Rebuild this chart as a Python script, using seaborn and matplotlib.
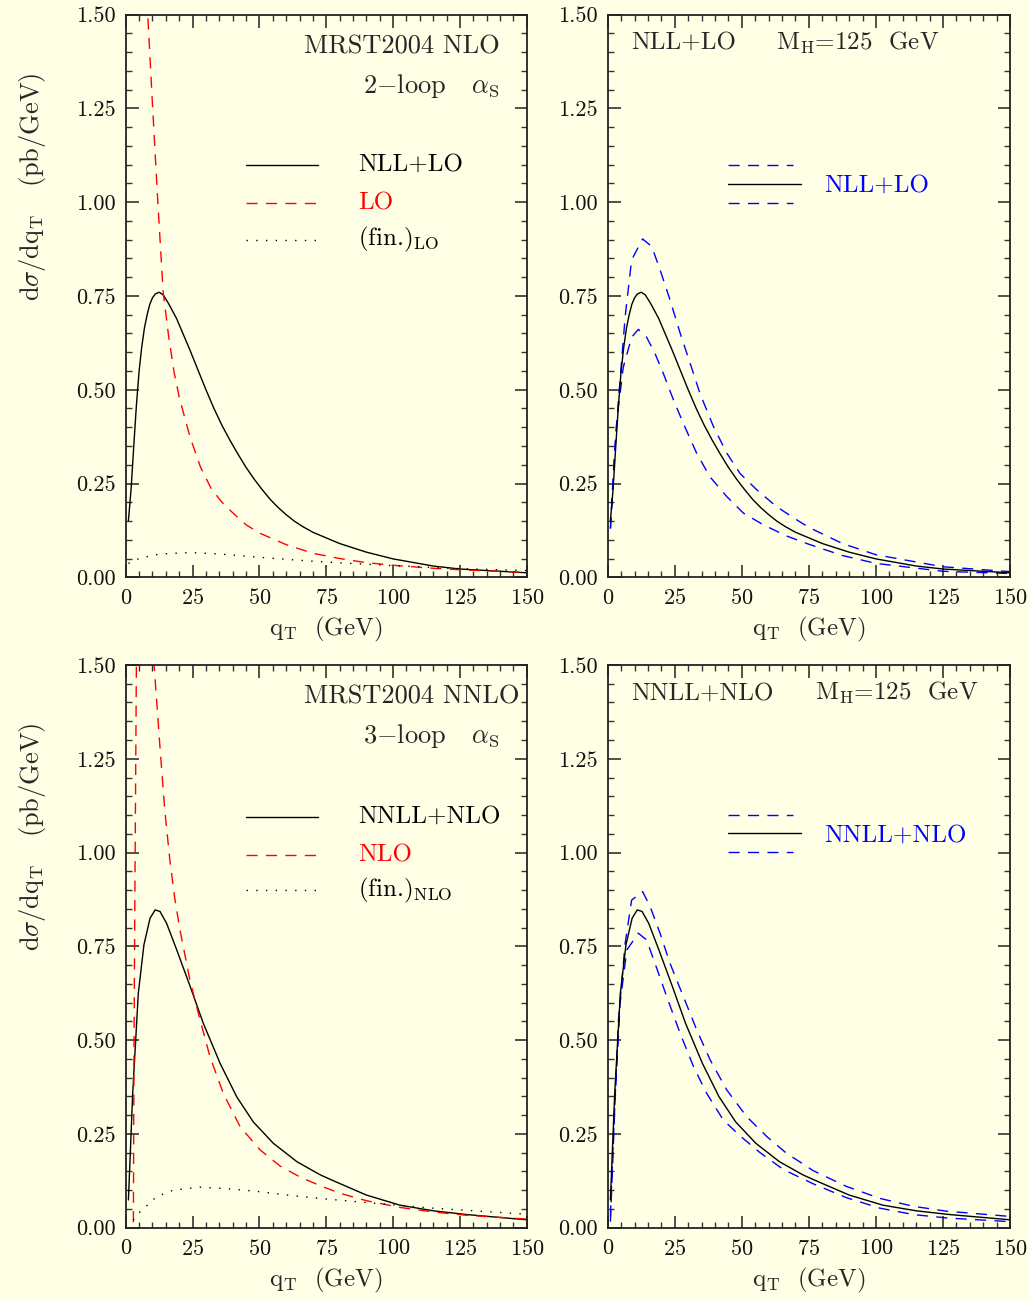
import matplotlib
matplotlib.use("Agg")
import matplotlib.pyplot as plt
import seaborn as sns
from matplotlib.ticker import MultipleLocator, FormatStrFormatter

# ---- data (q_T in GeV, d sigma/d q_T in pb/GeV) ----
# NLL+LO resummed curve (top panels)
q_nll = [1, 2, 3, 4, 5, 6, 7, 8, 9, 10, 11, 12.5, 14, 16, 19, 24, 30, 33, 36, 39,
         42, 45, 48, 51, 54, 57, 60, 63, 66, 70, 75, 80, 90, 100, 115, 125, 150]
nll_lo = [0.151, 0.235, 0.35, 0.46, 0.55, 0.615, 0.665, 0.70, 0.728, 0.745, 0.755,
          0.76, 0.753, 0.73, 0.69, 0.606, 0.50, 0.45, 0.405, 0.365, 0.328, 0.293,
          0.262, 0.234, 0.208, 0.186, 0.167, 0.15, 0.136, 0.12, 0.105, 0.09,
          0.067, 0.049, 0.03, 0.022, 0.012]

# LO fixed order (top left)
q_lo = [6, 8, 10, 12, 14, 16, 18, 20, 24, 28, 32, 36, 40, 45, 50, 60, 70, 80, 90,
        100, 115, 125, 150]
lo = [2.1, 1.53, 1.26, 1.0, 0.76, 0.645, 0.55, 0.48, 0.375, 0.293, 0.236, 0.2,
      0.172, 0.14, 0.118, 0.087, 0.064, 0.05, 0.039, 0.032, 0.024, 0.02, 0.013]

# (fin.)_LO (top left)
q_fin_lo = [1, 5.3, 12.8, 24, 35.3, 50.3, 71.4, 100, 125, 150]
fin_lo = [0.037, 0.051, 0.062, 0.066, 0.062, 0.053, 0.042, 0.031, 0.023, 0.018]

# NLL+LO scale band (top right)
q_nll_up = [1, 2.5, 4.6, 6.5, 8.9, 13, 16.4, 19.5, 23.2, 27, 30.7, 34.4, 39.4,
            44.4, 49.3, 55.6, 63, 70.5, 75, 87.5, 100, 125, 150]
nll_up = [0.13, 0.33, 0.526, 0.695, 0.846, 0.902, 0.882, 0.82, 0.74, 0.651, 0.571,
          0.49, 0.402, 0.331, 0.277, 0.233, 0.188, 0.153, 0.133, 0.09, 0.06,
          0.028, 0.015]
q_nll_dn = [1, 3.4, 5.8, 8.9, 11.4, 14.5, 17.6, 20.7, 24.5, 28.2, 33.2, 38.1, 44.4,
            50.6, 58, 66.7, 75, 87.5, 100, 125, 150]
nll_dn = [0.13, 0.42, 0.56, 0.64, 0.661, 0.64, 0.597, 0.544, 0.473, 0.41, 0.33,
          0.268, 0.215, 0.171, 0.14, 0.11, 0.088, 0.058, 0.037, 0.016, 0.01]

# NNLL+NLO resummed curve (bottom panels)
q_nnll = [1, 2.6, 4.7, 6.8, 9.1, 11, 12.8, 15.3, 19.1, 24.1, 29, 35.3, 41.5, 47.7,
          55.2, 64, 72.7, 77.7, 90, 102.6, 115, 127.5, 150]
nnll_nlo = [0.074, 0.358, 0.625, 0.754, 0.825, 0.847, 0.843, 0.811, 0.74, 0.643,
            0.545, 0.438, 0.349, 0.282, 0.225, 0.176, 0.141, 0.125, 0.087, 0.06,
            0.045, 0.035, 0.021]

# NLO fixed order (bottom left)
q_nlo = [2.5, 2.85, 3.1, 3.4, 4.0, 5, 7, 9, 10.6, 12.7, 14.6, 16.5, 18.3, 20.3, 24,
         27.8, 31.5, 36.5, 42.8, 50.3, 57.8, 65.2, 72.7, 80, 90, 102.6, 115,
         127.5, 150]
nlo = [-0.4, 0.0, 0.5, 0.87, 1.52, 2.3, 2.5, 1.95, 1.5, 1.291, 1.113, 0.98, 0.88,
       0.793, 0.66, 0.554, 0.456, 0.358, 0.269, 0.207, 0.164, 0.135, 0.112, 0.092,
       0.072, 0.054, 0.042, 0.033, 0.023]

# (fin.)_NLO (bottom left)
q_fin_nlo = [2.8, 4.7, 11.6, 17.8, 27.8, 37.8, 50.2, 62.7, 72.7, 90, 115, 150]
fin_nlo = [0.02, 0.038, 0.083, 0.1, 0.108, 0.104, 0.096, 0.085, 0.078, 0.067,
           0.052, 0.036]

# NNLL+NLO scale band (bottom right)
q_nnll_up = [1, 1.6, 4, 6.5, 8.9, 13, 15.8, 19.5, 23.2, 28.2, 33.2, 38.2, 44.4,
             51.8, 59.3, 66.7, 71.7, 76.6, 89, 101.5, 113.9, 126.3, 150]
nnll_up = [0.03, 0.153, 0.554, 0.758, 0.873, 0.896, 0.856, 0.785, 0.705, 0.616,
           0.527, 0.447, 0.367, 0.296, 0.243, 0.198, 0.175, 0.152, 0.11, 0.078,
           0.057, 0.044, 0.03]
q_nnll_dn = [1, 2.7, 4.6, 7.1, 11.4, 14.5, 17.6, 22, 27, 32, 36.9, 43.1, 49.3,
             56.8, 65.5, 76.6, 89, 101.5, 113.9, 126.3, 150]
nnll_dn = [0.016, 0.332, 0.598, 0.74, 0.785, 0.767, 0.705, 0.616, 0.518, 0.429,
           0.358, 0.287, 0.245, 0.2, 0.155, 0.117, 0.08, 0.052, 0.035, 0.026, 0.016]

# ---- style ----
sns.set_style("ticks")
plt.rcParams['font.family'] = ['cmr10']
plt.rcParams['mathtext.fontset'] = 'cm'
plt.rcParams['axes.formatter.use_mathtext'] = True

BG = '#ffffe6'
RED = '#ff0000'
BLUE = '#0000ff'
DASH = (0, (8, 6))
DOT = (0, (1, 6))
LW = 1.0
TXT = 18

fig = plt.figure(figsize=(10.29, 12.99), dpi=100, facecolor=BG)
ax_tl = fig.add_axes([0.1222, 0.5556, 0.3897, 0.4331])
ax_tr = fig.add_axes([0.5906, 0.5556, 0.3910, 0.4331])
ax_bl = fig.add_axes([0.1222, 0.0549, 0.3897, 0.4332])
ax_br = fig.add_axes([0.5906, 0.0549, 0.3910, 0.4332])


def style_axes(ax, ylabel):
    ax.set_facecolor(BG)
    ax.set_xlim(0, 150)
    ax.set_ylim(0, 1.5)
    ax.xaxis.set_major_locator(MultipleLocator(25))
    ax.xaxis.set_minor_locator(MultipleLocator(5))
    ax.yaxis.set_major_locator(MultipleLocator(0.25))
    ax.yaxis.set_minor_locator(MultipleLocator(0.05))
    ax.yaxis.set_major_formatter(FormatStrFormatter('%.2f'))
    ax.tick_params(which='both', direction='in', top=True, right=True,
                   color='#333333', labelcolor='#111111', labelsize=16)
    ax.tick_params(axis='y', which='major', pad=7)
    ax.tick_params(axis='x', which='major', pad=8)
    ax.tick_params(which='major', length=9, width=1.2)
    ax.tick_params(which='minor', length=4, width=1.0)
    for s in ax.spines.values():
        s.set_linewidth(1.3)
        s.set_color('#222222')
    ax.set_xlabel(r'q$_{\rm T}$  (GeV)', fontsize=18, labelpad=5)
    if ylabel:
        ax.set_ylabel(r'd$\sigma$/dq$_{\rm T}$   (pb/GeV)', fontsize=19)
        ax.yaxis.set_label_coords(-0.195, 0.695)
    else:
        ax.set_ylabel('')


def curve(ax, x, y, color, ls):
    sns.lineplot(x=x, y=y, ax=ax, color=color, linestyle=ls, linewidth=LW,
                 estimator=None, sort=False, legend=False)


def key(ax, x0, x1, y, color, ls):
    ax.plot([x0, x1], [y, y], transform=ax.transAxes, color=color,
            linestyle=ls, linewidth=LW)


# top left
curve(ax_tl, q_nll, nll_lo, 'black', '-')
curve(ax_tl, q_lo, lo, RED, DASH)
curve(ax_tl, q_fin_lo, fin_lo, 'black', DOT)
style_axes(ax_tl, True)
ax_tl.text(0.933, 0.943, 'MRST2004 NLO', transform=ax_tl.transAxes,
           ha='right', va='center', fontsize=19)
ax_tl.text(0.933, 0.873, r'2$-$loop   $\alpha_{\rm S}$', transform=ax_tl.transAxes,
           ha='right', va='center', fontsize=19)
for y, col, ls, lab, tc in [(0.733, 'black', '-', 'NLL+LO', 'black'),
                            (0.665, RED, DASH, 'LO', RED),
                            (0.600, 'black', DOT, r'(fin.)$_{\rm LO}$', 'black')]:
    key(ax_tl, 0.30, 0.48, y, col, ls)
    ax_tl.text(0.579, y, lab, transform=ax_tl.transAxes, ha='left',
               va='center', fontsize=TXT, color=tc)

# top right
curve(ax_tr, q_nll_up, nll_up, BLUE, DASH)
curve(ax_tr, q_nll_dn, nll_dn, BLUE, DASH)
curve(ax_tr, q_nll, nll_lo, 'black', '-')
style_axes(ax_tr, False)
ax_tr.text(0.058, 0.95, 'NLL+LO', transform=ax_tr.transAxes, ha='left',
           va='center', fontsize=TXT)
ax_tr.text(0.418, 0.95, r'M$_{\rm H}$=125  GeV', transform=ax_tr.transAxes,
           ha='left', va='center', fontsize=TXT)
key(ax_tr, 0.30, 0.46, 0.733, BLUE, DASH)
key(ax_tr, 0.30, 0.48, 0.699, 'black', '-')
key(ax_tr, 0.30, 0.46, 0.665, BLUE, DASH)
ax_tr.text(0.537, 0.696, 'NLL+LO', transform=ax_tr.transAxes, ha='left',
           va='center', fontsize=TXT, color=BLUE)

# bottom left
curve(ax_bl, q_nnll, nnll_nlo, 'black', '-')
curve(ax_bl, q_nlo, nlo, RED, DASH)
curve(ax_bl, q_fin_nlo, fin_nlo, 'black', DOT)
style_axes(ax_bl, True)
ax_bl.text(0.983, 0.943, 'MRST2004 NNLO', transform=ax_bl.transAxes,
           ha='right', va='center', fontsize=19)
ax_bl.text(0.933, 0.873, r'3$-$loop   $\alpha_{\rm S}$', transform=ax_bl.transAxes,
           ha='right', va='center', fontsize=19)
for y, col, ls, lab, tc in [(0.730, 'black', '-', 'NNLL+NLO', 'black'),
                            (0.662, RED, DASH, 'NLO', RED),
                            (0.600, 'black', DOT, r'(fin.)$_{\rm NLO}$', 'black')]:
    key(ax_bl, 0.30, 0.48, y, col, ls)
    ax_bl.text(0.579, y, lab, transform=ax_bl.transAxes, ha='left',
               va='center', fontsize=TXT, color=tc)

# bottom right
curve(ax_br, q_nnll_up, nnll_up, BLUE, DASH)
curve(ax_br, q_nnll_dn, nnll_dn, BLUE, DASH)
curve(ax_br, q_nnll, nnll_nlo, 'black', '-')
style_axes(ax_br, False)
ax_br.text(0.058, 0.95, 'NNLL+NLO', transform=ax_br.transAxes, ha='left',
           va='center', fontsize=TXT)
ax_br.text(0.515, 0.95, r'M$_{\rm H}$=125  GeV', transform=ax_br.transAxes,
           ha='left', va='center', fontsize=TXT)
key(ax_br, 0.30, 0.46, 0.733, BLUE, DASH)
key(ax_br, 0.30, 0.48, 0.701, 'black', '-')
key(ax_br, 0.30, 0.46, 0.667, BLUE, DASH)
ax_br.text(0.537, 0.696, 'NNLL+NLO', transform=ax_br.transAxes, ha='left',
           va='center', fontsize=TXT, color=BLUE)

fig.savefig('out.png', dpi=100, facecolor=BG)
